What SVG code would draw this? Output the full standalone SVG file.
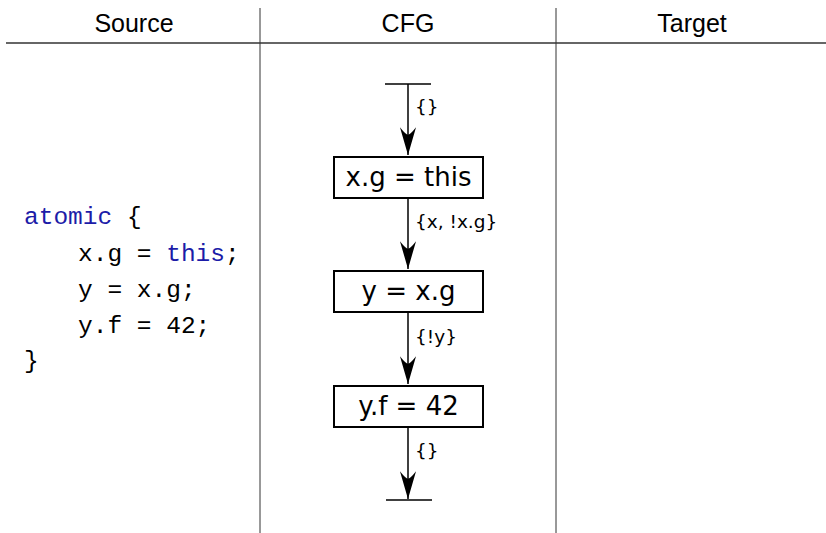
<svg xmlns="http://www.w3.org/2000/svg" width="826" height="533" viewBox="0 0 826 533">
<style>
.hdr{font-family:"Liberation Sans",Arial,sans-serif;font-size:25px;fill:#000;text-anchor:middle}
.code{font-family:"Liberation Mono","Courier New",monospace;font-size:24.5px;fill:#000}
.kw{fill:#1c1ca8}
.box{fill:#fff;stroke:#000;stroke-width:2}
.btxt{font-family:"DejaVu Sans",sans-serif;font-size:26px;fill:#000;text-anchor:middle}
.lbl{font-family:"DejaVu Sans",sans-serif;font-size:18.5px;fill:#000}
.edge{stroke:#000;stroke-width:1.5;fill:none}
.rule{stroke:#666;stroke-width:2}
.vrule{stroke:#333;stroke-width:1}
</style>
<defs>
<marker id="arr" markerUnits="userSpaceOnUse" markerWidth="30" markerHeight="20" viewBox="-27 -9 28 18" refX="0" refY="0" orient="auto">
<path d="M0,0 L-26,-7.5 Q-19,-2 -19,0 Q-19,2 -26,7.5 Z" fill="#000"/>
</marker>
</defs>
<rect width="826" height="533" fill="#fff"/>
<g id="table">
<line class="rule" x1="6" y1="43" x2="826" y2="43"/>
<line class="vrule" x1="260" y1="8" x2="260" y2="533"/>
<line class="vrule" x1="556" y1="8" x2="556" y2="533"/>
<text class="hdr" x="134" y="32">Source</text>
<text class="hdr" x="408" y="32">CFG</text>
<text class="hdr" x="692" y="32">Target</text>
</g>
<g id="source">
<text class="code" x="24" y="224"><tspan class="kw">atomic</tspan> {</text>
<text class="code" x="78" y="261">x.g = <tspan class="kw">this</tspan>;</text>
<text class="code" x="78" y="297">y = x.g;</text>
<text class="code" x="78" y="333">y.f = 42;</text>
<text class="code" x="24" y="368">}</text>
</g>
<g id="connectors">
<line class="edge" x1="385" y1="84" x2="431" y2="84"/>
<line class="edge" x1="408" y1="84" x2="408" y2="155" marker-end="url(#arr)"/>
<line class="edge" x1="408" y1="198" x2="408" y2="269" marker-end="url(#arr)"/>
<line class="edge" x1="408" y1="312" x2="408" y2="384" marker-end="url(#arr)"/>
<line class="edge" x1="408" y1="427" x2="408" y2="499" marker-end="url(#arr)"/>
<line class="edge" x1="386" y1="500" x2="432" y2="500"/>
<text class="lbl" x="415" y="113">{}</text>
<text class="lbl" x="415" y="228">{x, !x.g}</text>
<text class="lbl" x="415" y="343">{!y}</text>
<text class="lbl" x="415" y="457">{}</text>
</g>
<g id="n1">
<rect class="box" x="334" y="157" width="149" height="41"/>
<text class="btxt" x="408.5" y="186">x.g = this</text>
</g>
<g id="n2">
<rect class="box" x="334" y="271" width="149" height="41"/>
<text class="btxt" x="408.5" y="300">y = x.g</text>
</g>
<g id="n3">
<rect class="box" x="334" y="386" width="149" height="41"/>
<text class="btxt" x="408.5" y="415">y.f = 42</text>
</g>
</svg>
